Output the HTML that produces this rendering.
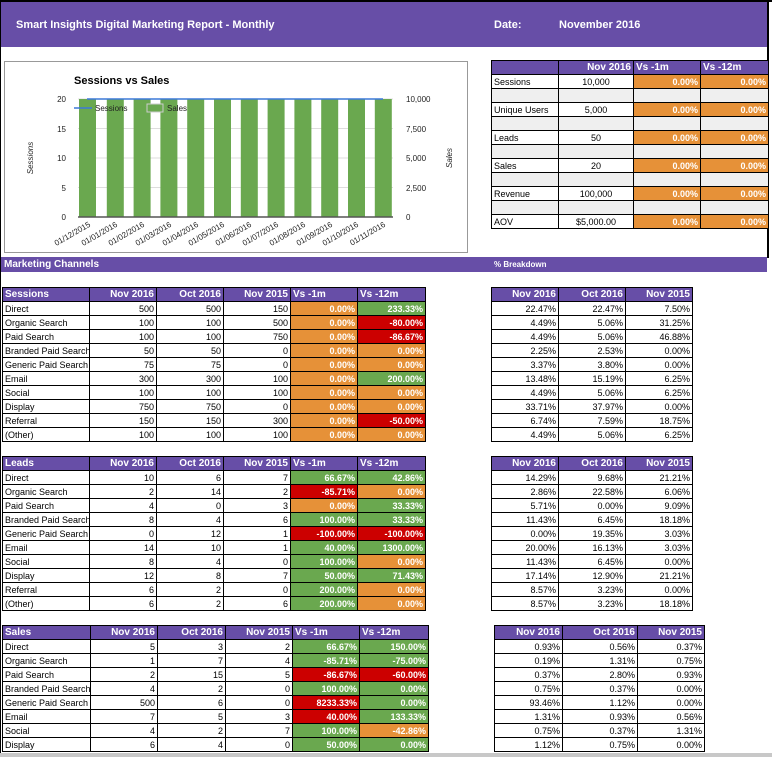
<!DOCTYPE html>
<html><head><meta charset="utf-8"><style>
*{margin:0;padding:0;box-sizing:border-box}
html,body{width:772px;height:757px;overflow:hidden}
body{background:#fff;position:relative;font-family:"Liberation Sans",sans-serif;font-size:9px;color:#000}
.abs{position:absolute}
.bar{background:#674ea7;color:#fff;font-weight:bold}
table{position:absolute;border-collapse:collapse;table-layout:fixed}
td{border:1px solid #000;height:14px;padding:0 2px;white-space:nowrap;overflow:hidden;text-align:right;line-height:12px;font-size:9px}
td.l{text-align:left}
tr.h td{background:#674ea7;color:#fff;font-weight:bold;font-size:10px}
td.o{background:#e69138;color:#fff;font-weight:bold}
td.g{background:#6aa84f;color:#fff;font-weight:bold}
td.r{background:#cc0000;color:#fff;font-weight:bold}
tr.e td{background:#efefef}
</style></head><body>
<div class="abs" style="left:0;top:0;width:772px;height:2px;background:#000"></div>
<div class="abs" style="left:0;top:0;width:1px;height:757px;background:#000"></div>
<div class="abs" style="left:767px;top:0;width:2px;height:258px;background:#000"></div>
<div class="abs bar" style="left:1px;top:2px;width:766px;height:45px;font-size:11px;">
<span class="abs" style="left:15px;top:17px">Smart Insights Digital Marketing Report - Monthly</span>
<span class="abs" style="left:493px;top:17px">Date:</span>
<span class="abs" style="left:558px;top:17px">November 2016</span></div>

<div class="abs" style="left:4px;top:61px;width:464px;height:192px;border:1px solid #999"></div>
<svg class="abs" style="left:0;top:0" width="470" height="260">
<text x="74" y="84" font-size="11" font-weight="bold" font-family="Liberation Sans">Sessions vs Sales</text>
<g stroke="#ddd"><line x1="78" x2="393" y1="128.5" y2="128.5"/><line x1="78" x2="393" y1="158" y2="158"/><line x1="78" x2="393" y1="187.5" y2="187.5"/><line x1="78" x2="393" y1="99" y2="99"/></g>
<g fill="#6aa84f">
<rect x="79" y="99" width="17" height="118"/><rect x="106.8" y="99" width="17" height="118"/><rect x="133.6" y="99" width="17" height="118"/><rect x="160.4" y="99" width="17" height="118"/><rect x="187.2" y="99" width="17" height="118"/><rect x="214" y="99" width="17" height="118"/><rect x="240.8" y="99" width="17" height="118"/><rect x="267.6" y="99" width="17" height="118"/><rect x="294.4" y="99" width="17" height="118"/><rect x="321.2" y="99" width="17" height="118"/><rect x="348" y="99" width="17" height="118"/><rect x="374.8" y="99" width="17" height="118"/></g>
<line x1="87" x2="383" y1="99" y2="99" stroke="#3c78d8" stroke-width="1.5"/>
<line x1="78" x2="393" y1="217" y2="217" stroke="#555" stroke-width="1.5"/>
<line x1="74" x2="92" y1="108" y2="108" stroke="#3c78d8" stroke-width="1.5"/>
<rect x="147" y="104" width="16" height="8" fill="#6aa84f" stroke="#ccc"/>
<g font-size="8" font-family="Liberation Sans" fill="#222">
<text x="95" y="111">Sessions</text><text x="167" y="111">Sales</text>
<g text-anchor="end"><text x="66" y="102">20</text><text x="66" y="132">15</text><text x="66" y="161">10</text><text x="66" y="191">5</text><text x="66" y="220">0</text></g>
<text x="406" y="102">10,000</text><text x="406" y="132">7,500</text><text x="406" y="161">5,000</text><text x="406" y="191">2,500</text><text x="406" y="220">0</text>
<text transform="translate(33,158) rotate(-90)" text-anchor="middle" font-style="italic">Sessions</text>
<text transform="translate(452,158) rotate(-90)" text-anchor="middle" font-style="italic">Sales</text>
<g text-anchor="end">
<text transform="translate(91,226) rotate(-30)">01/12/2015</text><text transform="translate(118,226) rotate(-30)">01/01/2016</text><text transform="translate(145,226) rotate(-30)">01/02/2016</text><text transform="translate(172,226) rotate(-30)">01/03/2016</text><text transform="translate(199,226) rotate(-30)">01/04/2016</text><text transform="translate(225,226) rotate(-30)">01/05/2016</text><text transform="translate(252,226) rotate(-30)">01/06/2016</text><text transform="translate(279,226) rotate(-30)">01/07/2016</text><text transform="translate(306,226) rotate(-30)">01/08/2016</text><text transform="translate(333,226) rotate(-30)">01/09/2016</text><text transform="translate(359,226) rotate(-30)">01/10/2016</text><text transform="translate(386,226) rotate(-30)">01/11/2016</text></g></g>
</svg>

<table style="left:491px;top:60px;width:277px">
<colgroup><col style="width:67px"><col style="width:75px"><col style="width:67px"><col style="width:68px"></colgroup>
<tr class="h"><td></td><td>Nov 2016</td><td class="l">Vs -1m</td><td class="l">Vs -12m</td></tr>
<tr><td class="l">Sessions</td><td style="text-align:center">10,000</td><td class="o">0.00%</td><td class="o">0.00%</td></tr>
<tr class="e"><td></td><td></td><td></td><td></td></tr>
<tr><td class="l">Unique Users</td><td style="text-align:center">5,000</td><td class="o">0.00%</td><td class="o">0.00%</td></tr>
<tr class="e"><td></td><td></td><td></td><td></td></tr>
<tr><td class="l">Leads</td><td style="text-align:center">50</td><td class="o">0.00%</td><td class="o">0.00%</td></tr>
<tr class="e"><td></td><td></td><td></td><td></td></tr>
<tr><td class="l">Sales</td><td style="text-align:center">20</td><td class="o">0.00%</td><td class="o">0.00%</td></tr>
<tr class="e"><td></td><td></td><td></td><td></td></tr>
<tr><td class="l">Revenue</td><td style="text-align:center">100,000</td><td class="o">0.00%</td><td class="o">0.00%</td></tr>
<tr class="e"><td></td><td></td><td></td><td></td></tr>
<tr><td class="l">AOV</td><td style="text-align:center">$5,000.00</td><td class="o">0.00%</td><td class="o">0.00%</td></tr>
</table>

<div class="abs bar" style="left:1px;top:257px;width:766px;height:15px;font-size:10px"><span class="abs" style="left:3px;top:2px">Marketing Channels</span><span class="abs" style="left:493px;top:3px;font-size:8px">% Breakdown</span></div>

<table style="left:2px;top:287px;width:423px">
<colgroup><col style="width:87px"><col style="width:67px"><col style="width:67px"><col style="width:67px"><col style="width:67px"><col style="width:68px"></colgroup>
<tr class="h"><td class="l">Sessions</td><td>Nov 2016</td><td>Oct 2016</td><td>Nov 2015</td><td class="l">Vs -1m</td><td class="l">Vs -12m</td></tr>
<tr><td class="l">Direct</td><td>500</td><td>500</td><td>150</td><td class="o">0.00%</td><td class="g">233.33%</td></tr>
<tr><td class="l">Organic Search</td><td>100</td><td>100</td><td>500</td><td class="o">0.00%</td><td class="r">-80.00%</td></tr>
<tr><td class="l">Paid Search</td><td>100</td><td>100</td><td>750</td><td class="o">0.00%</td><td class="r">-86.67%</td></tr>
<tr><td class="l">Branded Paid Search</td><td>50</td><td>50</td><td>0</td><td class="o">0.00%</td><td class="o">0.00%</td></tr>
<tr><td class="l">Generic Paid Search</td><td>75</td><td>75</td><td>0</td><td class="o">0.00%</td><td class="o">0.00%</td></tr>
<tr><td class="l">Email</td><td>300</td><td>300</td><td>100</td><td class="o">0.00%</td><td class="g">200.00%</td></tr>
<tr><td class="l">Social</td><td>100</td><td>100</td><td>100</td><td class="o">0.00%</td><td class="o">0.00%</td></tr>
<tr><td class="l">Display</td><td>750</td><td>750</td><td>0</td><td class="o">0.00%</td><td class="o">0.00%</td></tr>
<tr><td class="l">Referral</td><td>150</td><td>150</td><td>300</td><td class="o">0.00%</td><td class="r">-50.00%</td></tr>
<tr><td class="l">(Other)</td><td>100</td><td>100</td><td>100</td><td class="o">0.00%</td><td class="o">0.00%</td></tr>
</table>

<table style="left:491px;top:287px;width:201px">
<colgroup><col style="width:67px"><col style="width:67px"><col style="width:67px"></colgroup>
<tr class="h"><td>Nov 2016</td><td>Oct 2016</td><td>Nov 2015</td></tr>
<tr><td>22.47%</td><td>22.47%</td><td>7.50%</td></tr>
<tr><td>4.49%</td><td>5.06%</td><td>31.25%</td></tr>
<tr><td>4.49%</td><td>5.06%</td><td>46.88%</td></tr>
<tr><td>2.25%</td><td>2.53%</td><td>0.00%</td></tr>
<tr><td>3.37%</td><td>3.80%</td><td>0.00%</td></tr>
<tr><td>13.48%</td><td>15.19%</td><td>6.25%</td></tr>
<tr><td>4.49%</td><td>5.06%</td><td>6.25%</td></tr>
<tr><td>33.71%</td><td>37.97%</td><td>0.00%</td></tr>
<tr><td>6.74%</td><td>7.59%</td><td>18.75%</td></tr>
<tr><td>4.49%</td><td>5.06%</td><td>6.25%</td></tr>
</table>

<table style="left:2px;top:456px;width:423px">
<colgroup><col style="width:87px"><col style="width:67px"><col style="width:67px"><col style="width:67px"><col style="width:67px"><col style="width:68px"></colgroup>
<tr class="h"><td class="l">Leads</td><td>Nov 2016</td><td>Oct 2016</td><td>Nov 2015</td><td class="l">Vs -1m</td><td class="l">Vs -12m</td></tr>
<tr><td class="l">Direct</td><td>10</td><td>6</td><td>7</td><td class="g">66.67%</td><td class="g">42.86%</td></tr>
<tr><td class="l">Organic Search</td><td>2</td><td>14</td><td>2</td><td class="r">-85.71%</td><td class="o">0.00%</td></tr>
<tr><td class="l">Paid Search</td><td>4</td><td>0</td><td>3</td><td class="o">0.00%</td><td class="g">33.33%</td></tr>
<tr><td class="l">Branded Paid Search</td><td>8</td><td>4</td><td>6</td><td class="g">100.00%</td><td class="g">33.33%</td></tr>
<tr><td class="l">Generic Paid Search</td><td>0</td><td>12</td><td>1</td><td class="r">-100.00%</td><td class="r">-100.00%</td></tr>
<tr><td class="l">Email</td><td>14</td><td>10</td><td>1</td><td class="g">40.00%</td><td class="g">1300.00%</td></tr>
<tr><td class="l">Social</td><td>8</td><td>4</td><td>0</td><td class="g">100.00%</td><td class="o">0.00%</td></tr>
<tr><td class="l">Display</td><td>12</td><td>8</td><td>7</td><td class="g">50.00%</td><td class="g">71.43%</td></tr>
<tr><td class="l">Referral</td><td>6</td><td>2</td><td>0</td><td class="g">200.00%</td><td class="o">0.00%</td></tr>
<tr><td class="l">(Other)</td><td>6</td><td>2</td><td>6</td><td class="g">200.00%</td><td class="o">0.00%</td></tr>
</table>

<table style="left:491px;top:456px;width:201px">
<colgroup><col style="width:67px"><col style="width:67px"><col style="width:67px"></colgroup>
<tr class="h"><td>Nov 2016</td><td>Oct 2016</td><td>Nov 2015</td></tr>
<tr><td>14.29%</td><td>9.68%</td><td>21.21%</td></tr>
<tr><td>2.86%</td><td>22.58%</td><td>6.06%</td></tr>
<tr><td>5.71%</td><td>0.00%</td><td>9.09%</td></tr>
<tr><td>11.43%</td><td>6.45%</td><td>18.18%</td></tr>
<tr><td>0.00%</td><td>19.35%</td><td>3.03%</td></tr>
<tr><td>20.00%</td><td>16.13%</td><td>3.03%</td></tr>
<tr><td>11.43%</td><td>6.45%</td><td>0.00%</td></tr>
<tr><td>17.14%</td><td>12.90%</td><td>21.21%</td></tr>
<tr><td>8.57%</td><td>3.23%</td><td>0.00%</td></tr>
<tr><td>8.57%</td><td>3.23%</td><td>18.18%</td></tr>
</table>

<table style="left:2px;top:625px;width:426px">
<colgroup><col style="width:88px"><col style="width:67px"><col style="width:68px"><col style="width:67px"><col style="width:67px"><col style="width:69px"></colgroup>
<tr class="h"><td class="l">Sales</td><td>Nov 2016</td><td>Oct 2016</td><td>Nov 2015</td><td class="l">Vs -1m</td><td class="l">Vs -12m</td></tr>
<tr><td class="l">Direct</td><td>5</td><td>3</td><td>2</td><td class="g">66.67%</td><td class="g">150.00%</td></tr>
<tr><td class="l">Organic Search</td><td>1</td><td>7</td><td>4</td><td class="g">-85.71%</td><td class="g">-75.00%</td></tr>
<tr><td class="l">Paid Search</td><td>2</td><td>15</td><td>5</td><td class="r">-86.67%</td><td class="r">-60.00%</td></tr>
<tr><td class="l">Branded Paid Search</td><td>4</td><td>2</td><td>0</td><td class="g">100.00%</td><td class="g">0.00%</td></tr>
<tr><td class="l">Generic Paid Search</td><td>500</td><td>6</td><td>0</td><td class="r">8233.33%</td><td class="g">0.00%</td></tr>
<tr><td class="l">Email</td><td>7</td><td>5</td><td>3</td><td class="r">40.00%</td><td class="g">133.33%</td></tr>
<tr><td class="l">Social</td><td>4</td><td>2</td><td>7</td><td class="g">100.00%</td><td class="o">-42.86%</td></tr>
<tr><td class="l">Display</td><td>6</td><td>4</td><td>0</td><td class="g">50.00%</td><td class="g">0.00%</td></tr>
</table>

<table style="left:494px;top:625px;width:210px">
<colgroup><col style="width:68px"><col style="width:75px"><col style="width:67px"></colgroup>
<tr class="h"><td>Nov 2016</td><td>Oct 2016</td><td>Nov 2015</td></tr>
<tr><td>0.93%</td><td>0.56%</td><td>0.37%</td></tr>
<tr><td>0.19%</td><td>1.31%</td><td>0.75%</td></tr>
<tr><td>0.37%</td><td>2.80%</td><td>0.93%</td></tr>
<tr><td>0.75%</td><td>0.37%</td><td>0.00%</td></tr>
<tr><td>93.46%</td><td>1.12%</td><td>0.00%</td></tr>
<tr><td>1.31%</td><td>0.93%</td><td>0.56%</td></tr>
<tr><td>0.75%</td><td>0.37%</td><td>1.31%</td></tr>
<tr><td>1.12%</td><td>0.75%</td><td>0.00%</td></tr>
</table>
<div class="abs" style="left:0;top:753px;width:772px;height:4px;background:#c8c8c8"></div>
</body></html>
